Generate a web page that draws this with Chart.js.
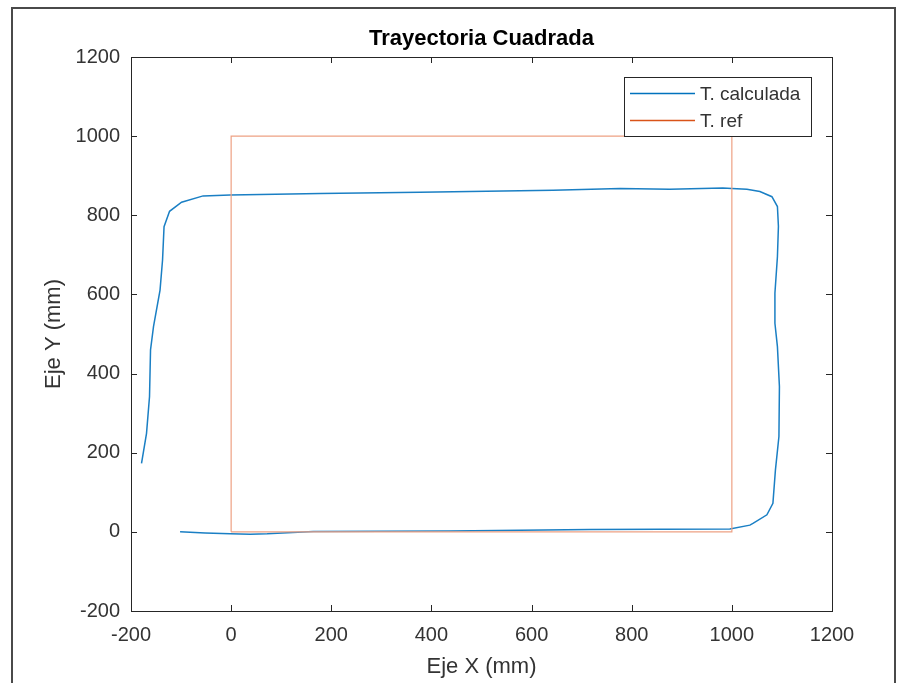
<!DOCTYPE html>
<html>
<head>
<meta charset="utf-8">
<title>Trayectoria Cuadrada</title>
<script src="https://cdn.jsdelivr.net/npm/chart.js@4.4.1/dist/chart.umd.min.js"></script>
<style>
  html, body { margin: 0; padding: 0; background: #fff; }
  #wrap { position: relative; width: 906px; height: 683px; overflow: hidden; }
  #frame { position: absolute; left: 11px; top: 7px; width: 881px; height: 700px; border: 2px solid #4a4a4a; }
  #grafico { position: absolute; left: 0; top: 0; }
</style>
</head>
<body>
<div id="wrap">
  <div id="frame"></div>
  <canvas id="grafico" width="906" height="683"></canvas>
</div>
<script>
// trayectoria calculada (mm)
const calcX = [-102, -52, -2, 38, 72, 164, 437, 717, 996, 1036, 1043, 1070, 1082, 1087, 1094, 1095, 1091, 1086, 1086, 1091, 1093, 1091, 1080, 1056, 1030, 1000, 982, 876, 777, 643, 377, 178, -2, -56, -99, -123, -134, -137, -142, -155, -161, -163, -169, -179];
const calcY = [0, -3, -5, -6, -5, 1, 2, 6, 7, 17, 22, 43, 72, 156, 241, 367, 468, 527, 603, 695, 772, 822, 847, 860, 866, 868, 869, 866, 868, 863, 858, 855, 851, 849, 833, 810, 771, 687, 611, 519, 460, 342, 249, 173];

// trayectoria de referencia (cuadrado)
const refX = [0, 1000, 1000, 0, 0];
const refY = [0, 0, 1000, 1000, 0];

const xTicks = [-200, 0, 200, 400, 600, 800, 1000, 1200];
const yTicks = [-200, 0, 200, 400, 600, 800, 1000, 1200];

const fuente = "'Liberation Sans', Arial, Helvetica, sans-serif";
const colorEjes = "#262626";
const colorTexto = "#333333";

function puntos(xs, ys) {
  return xs.map((x, i) => ({ x: x, y: ys[i] }));
}

// titulo, caja, marcas interiores y leyenda al estilo MATLAB
const estiloMatlab = {
  id: "estiloMatlab",
  afterDatasetsDraw(chart) {
    const { ctx, chartArea: a, scales } = chart;
    ctx.save();
    ctx.strokeStyle = colorEjes;
    ctx.lineWidth = 1;
    const largo = 6;
    ctx.beginPath();
    xTicks.forEach((v) => {
      const px = Math.round(scales.x.getPixelForValue(v)) + 0.5;
      ctx.moveTo(px, a.bottom); ctx.lineTo(px, a.bottom - largo);
      ctx.moveTo(px, a.top); ctx.lineTo(px, a.top + largo);
    });
    yTicks.forEach((v) => {
      const py = Math.round(scales.y.getPixelForValue(v)) + 0.5;
      ctx.moveTo(a.left, py); ctx.lineTo(a.left + largo, py);
      ctx.moveTo(a.right, py); ctx.lineTo(a.right - largo, py);
    });
    ctx.stroke();
    ctx.strokeRect(Math.round(a.left) + 0.5, Math.round(a.top) + 0.5,
      Math.round(a.right - a.left), Math.round(a.bottom - a.top));

    // titulo
    ctx.fillStyle = "#000";
    ctx.font = "bold 22px " + fuente;
    ctx.textAlign = "center";
    ctx.textBaseline = "alphabetic";
    ctx.fillText("Trayectoria Cuadrada", (a.left + a.right) / 2, 45);
    ctx.restore();
  },
  afterDraw(chart) {
    const { ctx } = chart;
    const caja = { x: 624.5, y: 77.5, w: 187, h: 59 };
    ctx.save();
    ctx.fillStyle = "#fff";
    ctx.fillRect(caja.x, caja.y, caja.w, caja.h);
    ctx.strokeStyle = colorEjes;
    ctx.lineWidth = 1;
    ctx.strokeRect(caja.x, caja.y, caja.w, caja.h);
    ctx.font = "19px " + fuente;
    ctx.textBaseline = "middle";
    ctx.textAlign = "left";
    chart.data.datasets.forEach((ds, i) => {
      const y = caja.y + 16 + i * 27;
      ctx.strokeStyle = ds.legendColor;
      ctx.lineWidth = 1.5;
      ctx.beginPath();
      ctx.moveTo(630, y);
      ctx.lineTo(695, y);
      ctx.stroke();
      ctx.fillStyle = colorTexto;
      ctx.fillText(ds.label, 700, y + 1);
    });
    ctx.restore();
  }
};

new Chart(document.getElementById("grafico"), {
  type: "scatter",
  data: {
    datasets: [
      {
        label: "T. calculada",
        data: puntos(calcX, calcY),
        showLine: true,
        borderColor: "#1a7fc4",
        legendColor: "#0072BD",
        borderWidth: 1.5,
        pointRadius: 0,
        order: 1
      },
      {
        label: "T. ref",
        data: puntos(refX, refY),
        showLine: true,
        borderColor: "#eea184",
        legendColor: "#D95319",
        borderWidth: 1.2,
        pointRadius: 0,
        order: 0
      }
    ]
  },
  options: {
    responsive: false,
    animation: false,
    devicePixelRatio: 1,
    layout: { padding: { top: 57, right: 74, left: 0, bottom: 0 } },
    plugins: {
      legend: { display: false },
      tooltip: { enabled: false }
    },
    scales: {
      x: {
        type: "linear",
        min: -200,
        max: 1200,
        afterFit: (s) => { s.height = 72; },
        afterBuildTicks: (s) => { s.ticks = xTicks.map((v) => ({ value: v })); },
        grid: { display: false, drawTicks: false },
        border: { display: false },
        ticks: { color: colorTexto, padding: 12, font: { family: fuente, size: 20 }, callback: (v) => String(v) },
        title: {
          display: true,
          text: "Eje X (mm)",
          color: colorTexto,
          font: { family: fuente, size: 22 },
          padding: { top: 0, bottom: 3 }
        }
      },
      y: {
        type: "linear",
        min: -200,
        max: 1200,
        afterFit: (s) => { s.width = 131; },
        afterBuildTicks: (s) => { s.ticks = yTicks.map((v) => ({ value: v })); },
        grid: { display: false, drawTicks: false },
        border: { display: false },
        ticks: { color: colorTexto, padding: 11, font: { family: fuente, size: 20 }, callback: (v) => String(v) },
        title: {
          display: true,
          text: "Eje Y (mm)",
          color: colorTexto,
          font: { family: fuente, size: 22 },
          padding: { top: 41, bottom: 0 }
        }
      }
    }
  },
  plugins: [estiloMatlab]
});
</script>
</body>
</html>
